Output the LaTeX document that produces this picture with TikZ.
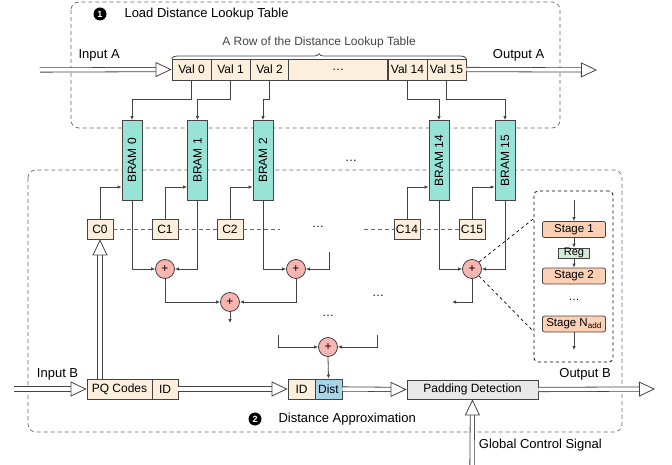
\documentclass[tikz,border=0pt]{standalone}
\usepackage{fontspec}
\setmainfont{Liberation Sans}
\usetikzlibrary{arrows.meta,decorations.pathreplacing,calc}
\definecolor{cellc}{HTML}{FCF0DC}
\definecolor{bramc}{HTML}{97E4D6}
\definecolor{addc}{HTML}{F8B5B1}
\definecolor{stagec}{HTML}{FCD0B4}
\definecolor{regc}{HTML}{D3ECD8}
\definecolor{distc}{HTML}{A6D4E8}
\definecolor{padc}{HTML}{E8E8E8}
\definecolor{linec}{HTML}{444444}
\tikzset{
  every node/.style={font=\fontsize{12}{14}\selectfont},
  cell/.style={draw=linec,line width=0.8pt,fill=cellc,minimum height=21pt,minimum width=39pt,inner sep=0pt},
  bram/.style={draw=linec,line width=0.8pt,fill=bramc,minimum height=80pt,minimum width=20pt,inner sep=0pt},
  adder/.style={circle,draw=linec,line width=0.8pt,fill=addc,minimum size=19pt,inner sep=0pt},
  stagebox/.style={draw=linec,line width=0.8pt,fill=stagec,rounded corners=2pt,minimum width=63pt,minimum height=16pt,inner sep=0pt,font=\fontsize{11.5}{13}\selectfont},
  conn/.style={draw=linec,line width=0.8pt,-{Latex[length=4pt,width=3.5pt]}},
  hollow/.style={draw=linec,line width=0.8pt,double=white,double distance=3.5pt,-{Triangle[open,length=16pt,width=15pt]}},
  region/.style={draw=linec!80,dashed,dash pattern=on 4pt off 3pt,line width=0.7pt,rounded corners=8pt},
  bignum/.style={circle,fill=black,text=white,inner sep=0pt,minimum size=13pt,font=\bfseries\fontsize{9}{9}\selectfont},
  label/.style={font=\fontsize{13}{15}\selectfont},
}
\begin{document}
\begin{tikzpicture}[x=1pt,y=-1pt]
  \useasboundingbox (0,0) rectangle (672,465);
  \draw[region] (71,2) rectangle (560,128);
  \draw[region] (28,170) rectangle (622,432);
  \node[bignum] (n1) at (100,14) {1};
  \node[label,anchor=west] (t1) at (121,14) {Load Distance Lookup Table};
  \node[bignum] (n2) at (255,419) {2};
  \node[label,anchor=west] (t2) at (275,419) {Distance Approximation};
  % distance lookup table row
  \node[cell] (V0) at (191.5,69.5) {Val 0};
  \node[cell] (V1) at (230.5,69.5) {Val 1};
  \node[cell] (V2) at (269.5,69.5) {Val 2};
  \node[cell,minimum width=99pt] (Vd) at (338,69.5) {\dots};
  \node[cell] (V14) at (407.5,69.5) {Val 14};
  \node[cell] (V15) at (446.5,69.5) {Val 15};
  \draw[linec,line width=0.8pt,decorate,decoration={brace,amplitude=5pt}] (V0.north west) -- (V15.north east)
    node[midway,above=7pt] (row) {A Row of the Distance Lookup Table};
  \coordinate (inA) at (40,70);
  \coordinate (outA) at (597,70);
  \draw[hollow] (inA) -- (V0.west) node[label,pos=0.45,above=5pt] {Input A};
  \draw[hollow] (V15.east) -- (outA) node[label,pos=0.4,above=5pt] {Output A};
  % BRAMs
  \node[bram] (B0) at (132,160.5) {\rotatebox{90}{BRAM 0}};
  \node[bram] (B1) at (197.5,160.5) {\rotatebox{90}{BRAM 1}};
  \node[bram] (B2) at (263,160.5) {\rotatebox{90}{BRAM 2}};
  \node[bram] (B14) at (439,160.5) {\rotatebox{90}{BRAM 14}};
  \node[bram] (B15) at (505,160.5) {\rotatebox{90}{BRAM 15}};
  \node (bd) at (351,161) {\dots};
  \draw[conn] (V0.south) -- ++(0,19) -| (B0.north);
  \draw[conn] (V1.south) -- ++(0,19) -| (B1.north);
  \draw[conn] (V2.south) -- ++(0,19) -| (B2.north);
  \draw[conn] (V14.south) -- ++(0,19) -| (B14.north);
  \draw[conn] (V15.south) -- ++(0,19) -| (B15.north);
  % counters
  \node[cell,minimum width=26pt,minimum height=20pt] (C0) at (100,229) {C0};
  \node[cell,minimum width=26pt,minimum height=20pt] (C1) at (165,229) {C1};
  \node[cell,minimum width=26pt,minimum height=20pt] (C2) at (230,229) {C2};
  \node[cell,minimum width=26pt,minimum height=20pt] (C14) at (407,229) {C14};
  \node[cell,minimum width=26pt,minimum height=20pt] (C15) at (472,229) {C15};
  \node (cd) at (318,227) {\dots};
  \coordinate (cl) at (280,229);
  \coordinate (cr) at (364,229);
  \draw[region,rounded corners=0pt] (C0) -- (C1) (C1) -- (C2) (C2.east) -- (cl) (cr) -- (C14.west) (C14) -- (C15);
  \draw[conn] (C0.north) |- ([yshift=-26.5pt]B0.west);
  \draw[conn] (C1.north) |- ([yshift=-26.5pt]B1.west);
  \draw[conn] (C2.north) |- ([yshift=-26.5pt]B2.west);
  \draw[conn] (C14.north) |- ([yshift=-26.5pt]B14.west);
  \draw[conn] (C15.north) |- ([yshift=-26.5pt]B15.west);
  % adder tree
  \node[adder] (A01) at (165,269) {+};
  \node[adder] (A23) at (296,269) {+};
  \node[adder] (A03) at (230,302) {+};
  \node[adder] (A1415) at (472,269) {+};
  \node[adder] (Aend) at (328,347) {+};
  \coordinate (r3) at (329,252);
  \coordinate (o03) at (230,323);
  \coordinate (o1415) at (452,302);
  \coordinate (le) at (278,335);
  \coordinate (re) at (377,335);
  \draw[conn] (B0.south) |- (A01.west);
  \draw[conn] (B1.south) |- (A01.east);
  \draw[conn] (B2.south) |- (A23.west);
  \draw[conn] (r3) |- (A23.east);
  \draw[conn] (B14.south) |- (A1415.west);
  \draw[conn] (B15.south) |- (A1415.east);
  \draw[conn] (A01.south) |- (A03.west);
  \draw[conn] (A23.south) |- (A03.east);
  \draw[conn] (A03.south) -- (o03);
  \draw[conn] (A1415.south) |- (o1415);
  \draw[conn] (le) |- (Aend.west);
  \draw[conn] (re) |- (Aend.east);
  \node (ad1) at (378,296) {\dots};
  \node (ad2) at (328,316) {\dots};
  % pipelined adder
  \node[draw=black,dashed,line width=0.8pt,rounded corners=4pt,minimum width=79pt,minimum height=171pt] (SB) at (573.5,276.5) {};
  \draw[dashed,line width=0.7pt] (A1415.north east) -- ($(SB.north west)+(0,28)$);
  \draw[dashed,line width=0.7pt] (A1415.south east) -- ($(SB.north west)+(0,141)$);
  \node[stagebox] (S1) at (574,229.5) {Stage 1};
  \node[stagebox,fill=regc,rounded corners=0pt,minimum width=31pt,minimum height=10pt,font=\fontsize{11}{11}\selectfont] (Reg) at (574,253) {Reg};
  \node[stagebox] (S2) at (574,276) {Stage 2};
  \node[font=\fontsize{11}{13}\selectfont] (sd) at (574,300) {\dots};
  \node[stagebox] (SN) at (574,324) {Stage N\textsubscript{add}};
  \coordinate (sin) at (574,200);
  \coordinate (sout) at (574,350);
  \draw[conn] (sin) -- (S1.north);
  \draw[conn] (S1.south) -- (Reg.north);
  \draw[conn] (Reg.south) -- (S2.north);
  \draw[conn] (SN.south) -- (sout);
  % query path
  \node[cell,minimum width=65pt,minimum height=20pt] (PQ) at (119.5,389) {PQ Codes};
  \node[cell,minimum width=26pt,minimum height=20pt] (ID1) at (165,389) {ID};
  \node[cell,minimum width=27pt,minimum height=20pt] (ID2) at (301.5,389) {ID};
  \node[cell,fill=distc,minimum width=27pt,minimum height=20pt] (Dist) at (328.5,389) {Dist};
  \node[cell,fill=padc,minimum width=131pt,minimum height=19pt] (Pad) at (472.5,389.5) {Padding Detection};
  \coordinate (inB) at (14,389);
  \coordinate (outB) at (655,389);
  \coordinate (gcs) at (472,465);
  \draw[conn] (Aend.south) -- (Dist.north);
  \draw[hollow] (inB) -- (PQ.west) node[label,pos=0.6,above=5pt] {Input B};
  \draw[hollow] (PQ.north -| C0) -- (C0.south);
  \draw[hollow] (ID1.east) -- (ID2.west);
  \draw[hollow] (Dist.east) -- (Pad.west);
  \draw[hollow] (Pad.east) -- (outB) node[label,pos=0.4,above=5pt] {Output B};
  \draw[hollow] (gcs) -- (Pad.south) node[label,pos=0.3,right=3pt] {Global Control Signal};
\end{tikzpicture}
\end{document}
